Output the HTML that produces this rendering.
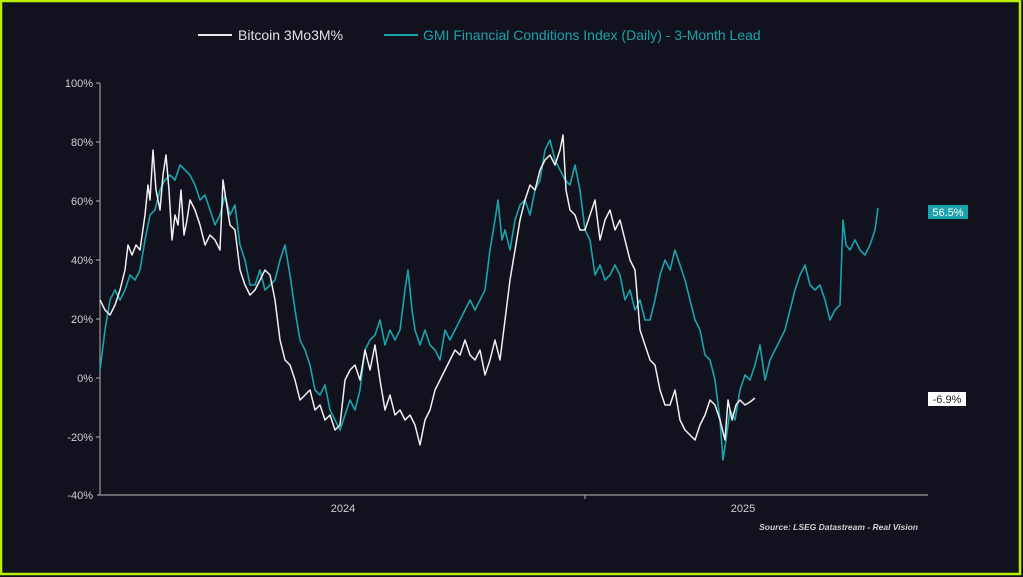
<!DOCTYPE html>
<html><head><meta charset="utf-8"><style>
html,body{margin:0;padding:0;background:#12121e;}
svg{display:block;font-family:"Liberation Sans",sans-serif;}
</style></head><body>
<svg width="1023" height="577" viewBox="0 0 1023 577" xmlns="http://www.w3.org/2000/svg">
<rect x="0" y="0" width="1023" height="577" fill="#12121e"/>
<rect x="1" y="1" width="1019" height="573" fill="none" stroke="#b8f000" stroke-width="2.5"/>
<!-- legend -->
<line x1="198" y1="35" x2="232" y2="35" stroke="#e6e6e6" stroke-width="2"/>
<text x="238" y="40" font-size="14" fill="#e0e0e0">Bitcoin 3Mo3M%</text>
<line x1="384" y1="35" x2="418" y2="35" stroke="#1aa3ab" stroke-width="2"/>
<text x="423" y="40" font-size="14" fill="#1aa3ab">GMI Financial Conditions Index (Daily) - 3-Month Lead</text>
<!-- axes -->
<g stroke="#9a9a9a" stroke-width="1.2">
<line x1="100" y1="83" x2="100" y2="495"/>
<line x1="97" y1="495" x2="928" y2="495"/>
<line x1="96" y1="83" x2="100" y2="83"/><line x1="96" y1="142" x2="100" y2="142"/>
<line x1="96" y1="201" x2="100" y2="201"/><line x1="96" y1="260" x2="100" y2="260"/>
<line x1="96" y1="319" x2="100" y2="319"/><line x1="96" y1="378" x2="100" y2="378"/>
<line x1="96" y1="437" x2="100" y2="437"/>
<line x1="585" y1="495" x2="585" y2="499"/>
</g>
<g font-size="11" fill="#d0d0d0" text-anchor="end">
<text x="93" y="87">100%</text><text x="93" y="146">80%</text><text x="93" y="205">60%</text>
<text x="93" y="264">40%</text><text x="93" y="323">20%</text><text x="93" y="382">0%</text>
<text x="93" y="441">-20%</text><text x="93" y="499">-40%</text>
</g>
<g font-size="11" fill="#d0d0d0" text-anchor="middle">
<text x="343" y="512">2024</text><text x="743" y="512">2025</text>
</g>
<text x="918" y="530" font-size="8.5" font-style="italic" font-weight="bold" fill="#cfcfcf" text-anchor="end">Source: LSEG Datastream - Real Vision</text>
<!-- teal series -->
<polyline fill="none" stroke="#1aa3ab" stroke-width="1.6" stroke-linejoin="round" points="100,370 105,330 110,300 115,290 120,300 125,290 130,275 135,280 140,270 145,240 150,215 155,210 160,190 165,180 170,175 175,180 180,165 185,170 190,175 195,185 200,200 205,195 210,210 215,225 220,215 225,195 230,215 235,205 240,245 245,260 250,285 255,285 260,270 265,290 270,285 275,280 280,260 285,245 290,275 295,310 300,340 305,350 310,365 315,390 320,395 325,385 330,410 335,420 340,430 345,415 350,400 355,410 360,390 365,350 370,340 375,335 380,320 385,345 390,330 395,340 400,330 405,290 408,270 412,310 415,330 420,345 425,330 430,345 435,350 440,360 445,330 450,340 455,330 460,320 465,310 470,300 475,310 480,300 485,290 490,250 495,220 498,200 502,240 505,230 510,250 515,220 520,205 525,200 530,215 535,190 540,180 545,150 550,140 555,160 560,170 565,180 570,185 575,165 580,190 585,230 590,240 595,275 600,265 605,280 610,275 615,265 620,275 625,300 630,290 635,310 640,300 645,320 650,320 655,300 660,275 665,260 670,270 675,250 680,265 685,280 690,300 695,320 700,330 705,355 710,360 715,380 720,420 723,460 726,440 730,410 735,420 740,390 745,375 750,380 755,365 760,345 765,380 770,360 775,350 780,340 785,330 790,310 795,290 800,275 805,265 810,285 815,290 820,285 825,300 830,320 835,310 840,305 843,220 846,245 850,250 855,240 860,250 865,255 870,245 875,230 878,208"/>
<!-- white series -->
<polyline fill="none" stroke="#f0f0f0" stroke-width="1.5" stroke-linejoin="round" points="100,300 105,310 110,315 115,305 120,290 125,270 128,245 132,255 136,245 140,250 145,215 148,185 150,200 153,150 156,190 160,210 163,175 166,155 169,190 172,240 175,215 178,225 181,190 184,235 187,220 190,200 195,210 200,225 205,245 210,235 215,240 220,250 223,180 226,200 230,225 235,230 240,270 245,285 250,295 255,290 260,280 265,270 270,275 275,300 280,340 285,360 290,365 295,380 300,400 305,395 310,390 315,410 320,405 325,420 330,415 335,430 340,425 345,380 350,370 355,365 360,380 365,350 370,370 375,345 380,380 385,410 390,395 395,415 400,410 405,420 410,415 415,425 420,445 425,420 430,410 435,390 440,380 445,370 450,360 455,350 460,355 465,340 470,355 475,360 480,350 485,375 490,360 495,340 500,360 505,320 510,280 515,250 520,220 525,200 530,185 535,190 540,170 545,160 550,155 555,165 560,150 563,135 566,190 570,210 575,215 580,230 585,230 590,215 595,200 600,240 605,220 610,210 615,230 620,220 625,240 630,260 635,270 640,330 645,345 650,360 655,365 660,390 665,405 670,405 675,390 680,420 685,430 690,435 695,440 700,425 705,415 710,400 715,405 720,420 725,440 728,400 732,420 736,405 740,400 745,405 750,402 755,398"/>
<!-- value labels -->
<rect x="928" y="205" width="40" height="14" fill="#1aa3ab"/>
<text x="948" y="216" font-size="11" fill="#ffffff" text-anchor="middle">56.5%</text>
<rect x="928" y="392" width="38" height="14" fill="#ffffff"/>
<text x="947" y="403" font-size="11" fill="#222" text-anchor="middle">-6.9%</text>
</svg>
</body></html>
